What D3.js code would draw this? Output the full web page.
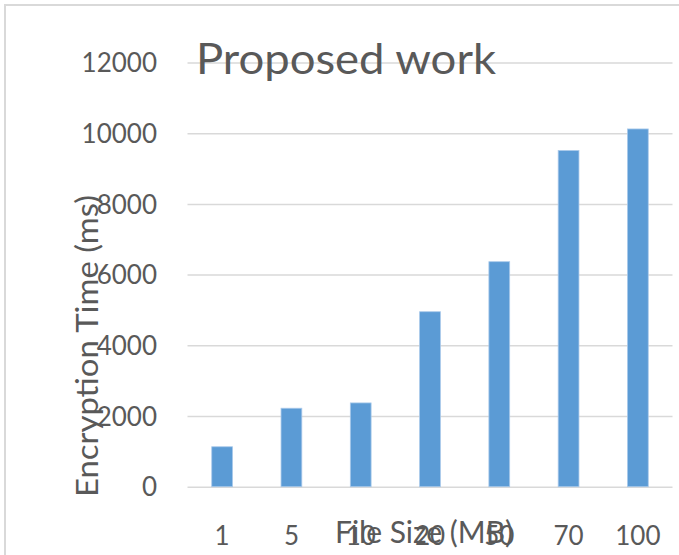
<!DOCTYPE html>
<html><head><meta charset="utf-8">
<script src="https://cdn.jsdelivr.net/npm/d3@7"></script>
<style>body{margin:0;background:#fff;} text{font-family:Lato, "Open Sans", sans-serif;}</style>
</head><body>
<svg id="c" width="679" height="555"></svg>
<script>
const categories = ["1","5","10","20","50","70","100"];
const values = [1130, 2220, 2370, 4950, 6365, 9510, 10120];
const yTicks = [0, 2000, 4000, 6000, 8000, 10000, 12000];
const title = "Proposed work";
const xTitle = "File Size (MB)";
const yTitle = "Encryption Time (ms)";

const svg = d3.select("#c");
const W = 679, H = 555;
svg.append("rect").attr("x",0).attr("y",0).attr("width",W).attr("height",H).attr("fill","#fff");
svg.append("rect").attr("x",5).attr("y",5).attr("width",800).attr("height",800)
  .attr("fill","none").attr("stroke","#d9d9d9").attr("stroke-width",2);

const x = d3.scaleBand().domain(categories).range([187.5, 672.5]).paddingInner(0.7).paddingOuter(0.35);
const y = d3.scaleLinear().domain([0, 12000]).range([486.7, 62.5]);

// gridlines
const grid = svg.append("g").attr("class","grid")
  .attr("transform","translate(187.5,0)")
  .call(d3.axisLeft(y).tickValues(yTicks).tickSize(-485).tickFormat(""));
grid.select(".domain").remove();
grid.selectAll("line").attr("stroke","#d9d9d9").attr("stroke-width",1.5);

// y tick labels
const ya = svg.append("g").attr("transform","translate(157,0)")
  .call(d3.axisLeft(y).tickValues(yTicks).tickSize(0).tickPadding(0).tickFormat(d3.format("d")));
ya.select(".domain").remove();
ya.selectAll("text").attr("fill","#595959").style("font-size","26px").attr("dy","0.35em");

// bars
svg.append("g").selectAll("rect").data(values).join("rect")
  .attr("x",(d,i)=>x(categories[i]))
  .attr("width",x.bandwidth())
  .attr("y",d=>y(d))
  .attr("height",d=>y(0)-y(d))
  .attr("fill","#5b9bd5")
  .attr("stroke","#a9c9ea").attr("stroke-width",0.8);

// x tick labels
const xa = svg.append("g").attr("transform","translate(0,545)")
  .call(d3.axisBottom(x).tickSize(0).tickPadding(0));
xa.select(".domain").remove();
xa.selectAll("text").attr("fill","#595959").style("font-size","26px").attr("dy","0");

// titles
svg.append("text").attr("x",196).attr("y",73.5).attr("fill","#595959")
  .style("font-size","43px").attr("textLength",300).attr("lengthAdjust","spacingAndGlyphs").text(title);
svg.append("text").attr("x",335).attr("y",543).attr("fill","#595959")
  .style("font-size","30px").text(xTitle);
svg.append("text").attr("transform","translate(98,497) rotate(-90)").attr("fill","#595959")
  .style("font-size","30px").attr("textLength",302).attr("lengthAdjust","spacingAndGlyphs").text(yTitle);
</script>
</body></html>
